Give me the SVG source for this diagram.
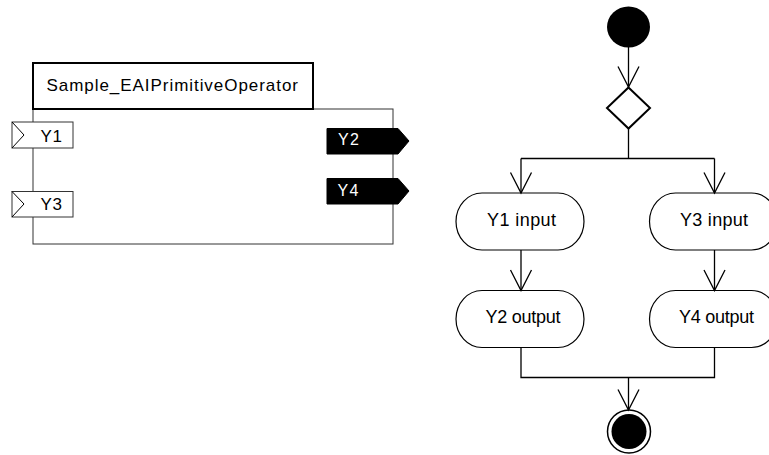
<svg xmlns="http://www.w3.org/2000/svg" width="769" height="455" viewBox="0 0 769 455">
<defs>
<style>
text{font-family:"Liberation Sans",Arial,sans-serif;fill:#000}
.port{fill:#fff;stroke:#333;stroke-width:1}
.out{fill:#000;stroke:#000;stroke-width:1}
.wt{fill:#fff}
.act{fill:#fff;stroke:#000;stroke-width:1.2}
.conn{fill:none;stroke:#000;stroke-width:1.3}
</style>
<marker id="open" markerUnits="userSpaceOnUse" markerWidth="26" markerHeight="26" viewBox="-23 -13 26 26" refX="0" refY="0" orient="auto">
<path d="M-20.5,-10.5 L0,0 L-20.5,10.5" fill="none" stroke="#000" stroke-width="1.3"/>
</marker>
</defs>
<rect width="769" height="455" fill="#fff"/>
<g id="operator">
<rect x="33" y="109" width="360" height="135" fill="#fff" stroke="#333" stroke-width="1"/>
<rect x="33" y="63" width="280" height="46" fill="#fff" stroke="#000" stroke-width="2"/>
<text x="46.5" y="90.5" font-size="17" textLength="251.5">Sample_EAIPrimitiveOperator</text>
</g>
<g id="port-Y1">
<rect class="port" x="12" y="122" width="61" height="26"/>
<polyline points="12,122 24,135 12,148" fill="none" stroke="#000" stroke-width="1"/>
<text x="40.5" y="141.5" font-size="17" textLength="21.5">Y1</text>
</g>
<g id="port-Y3">
<rect class="port" x="12" y="191.5" width="61" height="25.5"/>
<polyline points="12,191.5 24,204 12,217" fill="none" stroke="#000" stroke-width="1"/>
<text x="40.5" y="209.5" font-size="17" textLength="21.5">Y3</text>
</g>
<g id="port-Y2">
<polygon class="out" points="327,128.5 398,128.5 409,141 398,154 327,154"/>
<text class="wt" x="338" y="145" font-size="16" textLength="21">Y2</text>
</g>
<g id="port-Y4">
<polygon class="out" points="327,178.5 398,178.5 409,191 398,204 327,204"/>
<text class="wt" x="337.5" y="196" font-size="16" textLength="21">Y4</text>
</g>
<g id="start">
<ellipse cx="628.5" cy="27" rx="21.5" ry="20.5" fill="#000"/>
</g>
<g id="decision">
<polygon points="628.5,87.5 650,108 628.5,128.5 607,108" fill="#fff" stroke="#000" stroke-width="2"/>
</g>
<g id="y1-input">
<rect class="act" x="456" y="193" width="128" height="57" rx="26" ry="28.5"/>
<text x="521.5" y="226" font-size="18" text-anchor="middle" textLength="69">Y1 input</text>
</g>
<g id="y3-input">
<rect class="act" x="649.5" y="193" width="128" height="57" rx="26" ry="28.5"/>
<text x="714" y="226" font-size="18" text-anchor="middle" textLength="68">Y3 input</text>
</g>
<g id="y2-output">
<rect class="act" x="456" y="290.5" width="128" height="57" rx="26" ry="28.5"/>
<text x="523" y="323" font-size="18" text-anchor="middle" textLength="75">Y2 output</text>
</g>
<g id="y4-output">
<rect class="act" x="649.5" y="290.5" width="128" height="57" rx="26" ry="28.5"/>
<text x="716.5" y="323" font-size="18" text-anchor="middle" textLength="75">Y4 output</text>
</g>
<g id="end">
<circle cx="629" cy="431.5" r="21.5" fill="#fff" stroke="#000" stroke-width="1.5"/>
<circle cx="629" cy="431.5" r="17.5" fill="#000"/>
</g>
<g id="connectors">
<path class="conn" d="M628.5,47 L628.5,87" marker-end="url(#open)"/>
<path class="conn" d="M628.5,128.5 L628.5,158.5 M521,158.5 L714.5,158.5"/>
<path class="conn" d="M521,158.5 L521,193" marker-end="url(#open)"/>
<path class="conn" d="M714.5,158.5 L714.5,193" marker-end="url(#open)"/>
<path class="conn" d="M521,250 L521,290.5" marker-end="url(#open)"/>
<path class="conn" d="M714.5,250 L714.5,290.5" marker-end="url(#open)"/>
<path class="conn" d="M521,347.5 L521,377.5 L714.5,377.5 L714.5,347.5"/>
<path class="conn" d="M628.5,377.5 L628.5,410" marker-end="url(#open)"/>
</g>
</svg>
